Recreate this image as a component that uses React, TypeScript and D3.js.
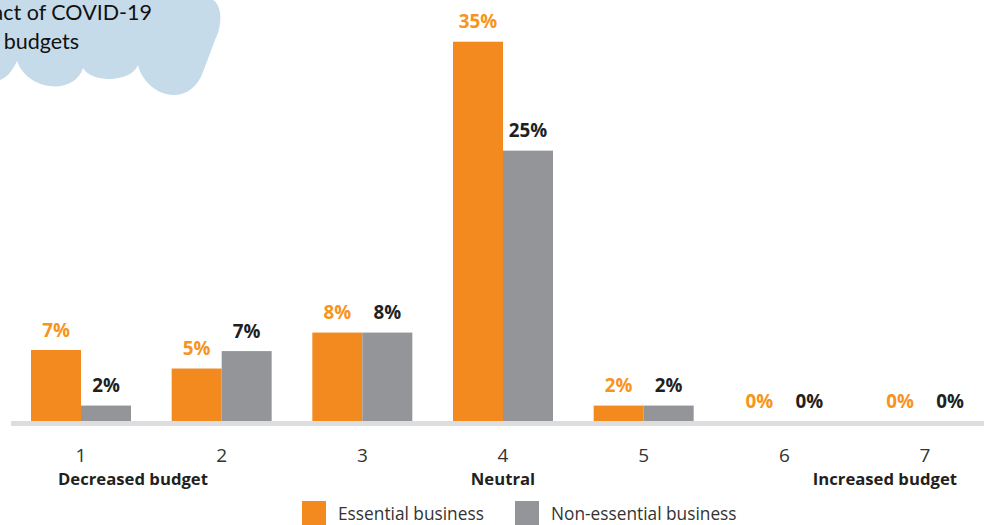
import React from "react";
import * as d3 from "d3";

const categories = ["1", "2", "3", "4", "5", "6", "7"];
const subLabels = ["Decreased budget", "", "", "Neutral", "", "", "Increased budget"];
const seriesNames = ["Essential business", "Non-essential business"];
const essential = [6.7, 5.0, 8.3, 35.0, 1.6, 0, 0];
const nonEssential = [1.6, 6.6, 8.3, 25.0, 1.6, 0, 0];
const titleLines = ["Impact of COVID-19", "on budgets"];

const W = 984;
const H = 525;
const ORANGE = "#f38a20";
const GRAY = "#939598";
const ORANGE_TEXT = "#f7941d";
const DARK = "#231f20";
const FONT = "'Open Sans', sans-serif";

export default function App() {
  const x = d3.scalePoint<string>().domain(categories).range([81, 925]);
  const inner = d3.scaleBand<number>().domain([0, 1]).range([-50, 50]).padding(0);
  const y = d3.scaleLinear().domain([0, 35]).range([423, 41.7]);
  const series = [essential, nonEssential];
  const colors = [ORANGE, GRAY];
  const textColors = [ORANGE_TEXT, DARK];

  const cloud =
    "M0,0 L213,0 C222,5 223,25 215,40 L203,72 C196,92 178,100 160,92 C148,86 140,75 138,65 " +
    "C132,82 92,84 83,68 C75,95 28,92 17,61 C12,72 6,78 0,80 Z";

  return (
    <svg
      width={W}
      height={H}
      style={{ position: "fixed", left: 0, top: 0, background: "#fff" }}
      fontFamily={FONT}
    >
      <path d={cloud} fill="#c6dbe9" />
      <text x={152} y={20} textAnchor="end" fontSize={21.5} fill="#111" fontFamily="Lato, sans-serif">
        {titleLines[0]}
      </text>
      <text x={79} y={49} textAnchor="end" fontSize={21.5} fill="#111" fontFamily="Lato, sans-serif">
        {titleLines[1]}
      </text>

      {categories.map((c, i) => (
        <g key={c} transform={`translate(${x(c)},0)`}>
          {series.map((s, k) => {
            const v = s[i];
            const bx = inner(k)!;
            return (
              <g key={k}>
                {v > 0 && (
                  <rect x={bx} y={y(v)} width={inner.bandwidth()} height={y(0) - y(v)} fill={colors[k]} />
                )}
                <text
                  x={bx + inner.bandwidth() / 2}
                  y={Math.min(y(v), 421) - 13.5}
                  textAnchor="middle"
                  fontSize={18.8}
                  fontWeight={700}
                  fill={textColors[k]}
                >
                  {`${Math.round(v)}%`}
                </text>
              </g>
            );
          })}
        </g>
      ))}

      <rect x={11} y={421} width={W - 11} height={5} fill="#dcdddf" />

      {categories.map((c, i) => (
        <g key={"t" + c}>
          <text x={x(c)} y={462} textAnchor="middle" fontSize={19} fill="#333">
            {c}
          </text>
          {subLabels[i] && (
            <text
              x={i === 0 ? x(c)! - 23 : i === categories.length - 1 ? x(c)! + 32 : x(c)}
              y={485}
              textAnchor={i === 0 ? "start" : i === categories.length - 1 ? "end" : "middle"}
              fontSize={16.7}
              fontWeight={700}
              fill={DARK}
            >
              {subLabels[i]}
            </text>
          )}
        </g>
      ))}

      {seriesNames.map((n, k) => {
        const lx = k === 0 ? 302 : 515;
        return (
          <g key={n}>
            <rect x={lx} y={501} width={24} height={24} fill={colors[k]} />
            <text x={lx + 36} y={520} fontSize={17.3} fill="#333">
              {n}
            </text>
          </g>
        );
      })}
    </svg>
  );
}
